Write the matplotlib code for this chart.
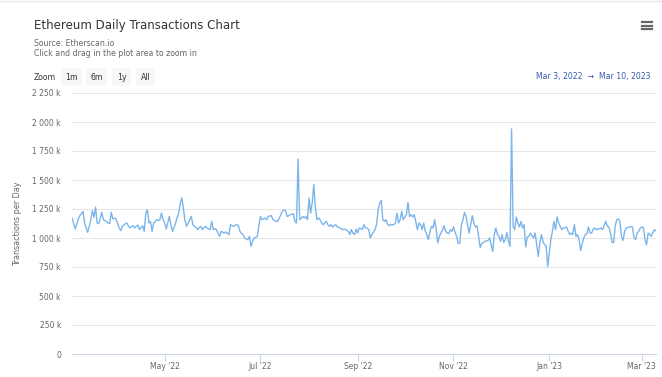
import numpy as np
import pandas as pd
import matplotlib
matplotlib.use('Agg')
import matplotlib.pyplot as plt
import matplotlib.dates as mdates
from matplotlib.ticker import FixedLocator, FuncFormatter

# daily transactions (thousands), Mar 3, 2022 -> Mar 10, 2023
start_date = '2022-03-03'
tx_k = [
    1172, 1130, 1077, 1120, 1164, 1192, 1210, 1229, 1129, 1090, 1049, 1100, 1158, 1235, 1178, 1267,
    1129, 1123, 1170, 1221, 1158, 1150, 1143, 1130, 1123, 1221, 1166, 1170, 1164, 1129, 1090, 1063,
    1100, 1110, 1123, 1129, 1100, 1086, 1100, 1106, 1086, 1100, 1112, 1072, 1090, 1106, 1057, 1215,
    1244, 1129, 1143, 1057, 1129, 1140, 1158, 1150, 1158, 1215, 1160, 1129, 1077, 1130, 1186, 1115,
    1057, 1090, 1129, 1180, 1215, 1301, 1345, 1244, 1150, 1100, 1129, 1160, 1186, 1115, 1100, 1090,
    1072, 1090, 1100, 1072, 1090, 1100, 1086, 1080, 1072, 1143, 1072, 1080, 1072, 1040, 1014, 1057,
    1050, 1043, 1052, 1040, 1029, 1115, 1105, 1100, 1110, 1115, 1106, 1057, 1040, 1029, 1000, 990,
    985, 1014, 928, 970, 1000, 1005, 1014, 1100, 1186, 1158, 1165, 1172, 1158, 1186, 1190, 1192,
    1158, 1150, 1143, 1143, 1170, 1201, 1230, 1244, 1238, 1186, 1190, 1201, 1205, 1209, 1143, 1129,
    1680, 1158, 1170, 1186, 1172, 1186, 1158, 1345, 1215, 1301, 1460, 1273, 1158, 1172, 1158, 1129,
    1115, 1130, 1143, 1115, 1100, 1115, 1095, 1106, 1115, 1095, 1090, 1086, 1072, 1075, 1077, 1066,
    1057, 1029, 1072, 1040, 1029, 1077, 1043, 1086, 1080, 1072, 1115, 1086, 1086, 1072, 1000, 1029,
    1050, 1072, 1115, 1244, 1301, 1324, 1158, 1143, 1158, 1120, 1106, 1115, 1115, 1115, 1129, 1215,
    1129, 1158, 1229, 1158, 1180, 1201, 1307, 1186, 1201, 1181, 1201, 1140, 1072, 1129, 1115, 1072,
    1129, 1060, 1029, 985, 1057, 1100, 1086, 1158, 1072, 957, 1014, 1043, 1070, 1106, 1057, 1045,
    1037, 1072, 1057, 1095, 1050, 1014, 951, 957, 1106, 1158, 1221, 1186, 1106, 1043, 1115, 1192,
    1129, 1095, 1106, 1014, 919, 951, 960, 971, 975, 979, 1000, 942, 884, 1029, 1086, 1029,
    1014, 971, 1029, 962, 985, 1049, 971, 928, 1940, 1100, 1072, 1181, 1130, 1095, 1143, 1086,
    1115, 922, 1009, 1014, 1043, 1020, 1000, 1043, 942, 841, 957, 1029, 971, 942, 934, 755,
    871, 985, 1057, 1143, 1072, 1181, 1129, 1100, 1072, 1086, 1086, 1095, 1060, 1029, 1043, 1029,
    1115, 1014, 1029, 985, 893, 951, 1000, 1029, 1037, 1095, 1043, 1043, 1077, 1086, 1072, 1077,
    1080, 1086, 1072, 1110, 1143, 1100, 1095, 1043, 962, 962, 1100, 1158, 1164, 1143, 1014, 979,
    1057, 1086, 1090, 1095, 1100, 1095, 1000, 985, 1043, 1057, 1086, 1095, 1086, 985, 942, 1043,
    1029, 1014, 1049, 1072, 1060,
]
dates = pd.date_range(start_date, periods=len(tx_k), freq='D')
y_ticks = [0, 250, 500, 750, 1000, 1250, 1500, 1750, 2000, 2250]
buttons = ['1m', '6m', '1y', 'All']

W, H = 662, 377
fig = plt.figure(figsize=(W / 100, H / 100), dpi=100)
plt.rcParams['font.family'] = 'DejaVu Sans'

def px(x, y):
    return x / W, 1 - y / H

# plot area
left, right, top, bottom = 72, 656, 93, 354
ax = fig.add_axes([left / W, 1 - bottom / H, (right - left) / W, (bottom - top) / H])
ax.plot(dates, np.array(tx_k) * 1000, color='#7cb5ec', lw=1.0)

ax.set_ylim(0, 2250000)
ax.set_xlim(dates[0], dates[-1])
ax.yaxis.set_major_locator(FixedLocator([v * 1000 for v in y_ticks]))

def kfmt(v, pos):
    k = int(round(v / 1000))
    if k == 0:
        return '0'
    return '{:,} k'.format(k).replace(',', ' ')

ax.yaxis.set_major_formatter(FuncFormatter(kfmt))
ax.xaxis.set_major_locator(mdates.MonthLocator(bymonth=[1, 3, 5, 7, 9, 11]))
ax.xaxis.set_major_formatter(mdates.DateFormatter("%b '%y"))

ax.grid(axis='y', color='#e6e6e6', lw=0.8)
ax.set_axisbelow(True)
for s in ['top', 'right', 'left']:
    ax.spines[s].set_visible(False)
ax.spines['bottom'].set_color('#ccd6eb')
ax.spines['bottom'].set_linewidth(0.8)
ax.tick_params(axis='y', length=0, pad=8, labelsize=5.5, labelcolor='#666666')
ax.tick_params(axis='x', length=5, color='#ccd6eb', width=0.8, pad=1,
               labelsize=5.5, labelcolor='#666666')
ax.set_ylabel('Transactions per Day', fontsize=5.8, color='#666666')
ax.yaxis.set_label_coords((22 - left) / (right - left), 0.5)

# header texts
fig.text(*px(34, 25), 'Ethereum Daily Transactions Chart', fontsize=8.5, color='#333333',
         va='center', ha='left')
fig.text(*px(34, 44), 'Source: Etherscan.io', fontsize=5.6, color='#666666', va='center')
fig.text(*px(34, 53), 'Click and drag in the plot area to zoom in', fontsize=5.6,
         color='#666666', va='center')

# range selector
fig.text(*px(34, 77), 'Zoom', fontsize=5.6, color='#333333', va='center')
bx = [71.5, 96.5, 121.5, 145.5]
for b, x in zip(buttons, bx):
    fig.text(*px(x, 77), b, fontsize=5.6, color='#333333', va='center', ha='center',
             bbox=dict(boxstyle='square,pad=0.55', fc='#f7f7f7', ec='none'))
fig.text(*px(651, 77), 'Mar 3, 2022  \u2192  Mar 10, 2023', fontsize=5.6, color='#335cad',
         va='center', ha='right')

# menu icon
for yy in [22, 25.5, 29]:
    fig.add_artist(plt.Line2D([642 / W, 652 / W], [1 - yy / H, 1 - yy / H],
                              color='#666666', lw=1.6))
# top border
fig.add_artist(plt.Line2D([0, 1], [1 - 1 / H, 1 - 1 / H], color='#e6e6e6', lw=1.0))

fig.savefig('out.png', dpi=100)
